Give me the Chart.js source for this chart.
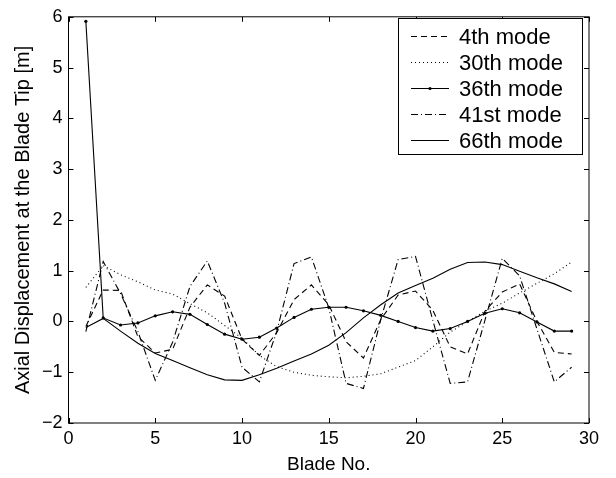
<!DOCTYPE html>
<html>
<head>
<meta charset="utf-8">
<script src="https://cdn.jsdelivr.net/npm/chart.js@4.4.0/dist/chart.umd.min.js"></script>
<style>
  html, body { margin: 0; padding: 0; background: #fff; }
</style>
</head>
<body>
<canvas id="chart" width="616" height="478"></canvas>
<script>
const FONT = "'Liberation Sans', Arial, Helvetica, sans-serif";

// blade numbers along the x axis
const BLADES = [1, 2, 3, 4, 5, 6, 7, 8, 9, 10, 11, 12, 13, 14, 15, 16, 17, 18, 19, 20, 21, 22, 23, 24, 25, 26, 27, 28, 29];

// axial tip displacement [m] per mode
const MODE_4 = [-0.10, 0.62, 0.61, -0.30, -0.62, -0.55, 0.28, 0.72, 0.50, -0.35, -0.67, -0.22, 0.43, 0.72, 0.33, -0.40, -0.72, 0.04, 0.52, 0.60, 0.22, -0.50, -0.64, 0.20, 0.58, 0.74, 0.00, -0.61, -0.64];
const MODE_30 = [0.67, 1.10, 0.92, 0.78, 0.62, 0.54, 0.35, 0.17, -0.08, -0.33, -0.67, -0.89, -1.00, -1.06, -1.09, -1.11, -1.08, -1.03, -0.90, -0.77, -0.50, -0.21, 0.00, 0.20, 0.36, 0.56, 0.75, 0.94, 1.17];
const MODE_36 = [5.91, 0.07, -0.07, -0.03, 0.11, 0.19, 0.14, -0.06, -0.25, -0.35, -0.31, -0.13, 0.08, 0.24, 0.28, 0.28, 0.21, 0.12, 0.00, -0.12, -0.19, -0.14, 0.00, 0.16, 0.25, 0.17, -0.01, -0.19, -0.19];
const MODE_41 = [-0.20, 1.18, 0.55, -0.20, -1.16, -0.41, 0.69, 1.19, 0.36, -0.90, -1.19, -0.20, 1.14, 1.27, 0.27, -1.22, -1.32, 0.04, 1.22, 1.28, 0.02, -1.22, -1.19, 0.02, 1.24, 0.90, -0.15, -1.19, -0.90];
const MODE_66 = [-0.12, 0.06, -0.19, -0.43, -0.63, -0.77, -0.91, -1.05, -1.15, -1.16, -1.05, -0.92, -0.78, -0.64, -0.47, -0.22, 0.07, 0.33, 0.56, 0.71, 0.85, 1.03, 1.16, 1.17, 1.12, 0.99, 0.86, 0.74, 0.59];

const SERIES_LABELS = ["4th mode", "30th mode", "36th mode", "41st mode", "66th mode"];
const X_TICKS = [0, 5, 10, 15, 20, 25, 30];
const Y_TICKS = [-2, -1, 0, 1, 2, 3, 4, 5, 6];

const toPoints = (vals) => vals.map((v, i) => ({ x: BLADES[i], y: v }));

const styles = [
  { dash: [6, 4], marker: 0 },
  { dash: [1, 3], marker: 0 },
  { dash: [], marker: 1.6 },
  { dash: [7, 3, 1, 3], marker: 0 },
  { dash: [], marker: 0 },
];
const allValues = [MODE_4, MODE_30, MODE_36, MODE_41, MODE_66];

const datasets = allValues.map((vals, i) => ({
  label: SERIES_LABELS[i],
  data: toPoints(vals),
  borderColor: "#000",
  backgroundColor: "#000",
  borderWidth: 1.1,
  borderDash: styles[i].dash,
  pointRadius: styles[i].marker,
  pointBorderWidth: 0,
  pointHoverRadius: 0,
  tension: 0,
  fill: false,
}));

// matlab-ish frame with ticks pointing inwards on all four sides
const frameTicks = {
  id: "frameTicks",
  afterDraw(chart) {
    const { ctx, chartArea: a, scales } = chart;
    const len = 5;
    ctx.save();
    ctx.strokeStyle = "#000";
    ctx.lineWidth = 1;
    ctx.strokeRect(a.left, a.top, a.right - a.left, a.bottom - a.top);
    ctx.beginPath();
    X_TICKS.forEach((v) => {
      const px = Math.round(scales.x.getPixelForValue(v)) + 0.5;
      ctx.moveTo(px, a.bottom); ctx.lineTo(px, a.bottom - len);
      ctx.moveTo(px, a.top); ctx.lineTo(px, a.top + len);
    });
    Y_TICKS.forEach((v) => {
      const py = Math.round(scales.y.getPixelForValue(v)) + 0.5;
      ctx.moveTo(a.left, py); ctx.lineTo(a.left + len, py);
      ctx.moveTo(a.right, py); ctx.lineTo(a.right - len, py);
    });
    ctx.stroke();
    ctx.restore();
  },
};

// boxed legend in the upper right corner
const boxLegend = {
  id: "boxLegend",
  afterDraw(chart) {
    const { ctx } = chart;
    const box = { x: 398.5, y: 18.5, w: 184, h: 136 };
    ctx.save();
    ctx.fillStyle = "#fff";
    ctx.fillRect(box.x, box.y, box.w, box.h);
    ctx.strokeStyle = "#000";
    ctx.lineWidth = 1;
    ctx.strokeRect(box.x, box.y, box.w, box.h);
    ctx.font = "22px " + FONT;
    ctx.textBaseline = "middle";
    ctx.fillStyle = "#000";
    chart.data.datasets.forEach((ds, i) => {
      const y = Math.round(35.5 + i * 26) + 0.5;
      ctx.beginPath();
      ctx.setLineDash(ds.borderDash);
      ctx.lineWidth = ds.borderWidth;
      ctx.moveTo(411, y);
      ctx.lineTo(449, y);
      ctx.stroke();
      ctx.setLineDash([]);
      if (ds.pointRadius > 0) {
        ctx.beginPath();
        ctx.arc(430, y, ds.pointRadius, 0, Math.PI * 2);
        ctx.fill();
      }
      ctx.fillText(ds.label, 459, y + 1);
    });
    ctx.restore();
  },
};

new Chart(document.getElementById("chart"), {
  type: "line",
  data: { datasets },
  options: {
    responsive: false,
    animation: false,
    devicePixelRatio: 1,
    layout: { padding: { top: 11, right: 27, left: 0, bottom: 0 } },
    plugins: { legend: { display: false }, tooltip: { enabled: false } },
    scales: {
      x: {
        type: "linear",
        min: 0,
        max: 30,
        afterBuildTicks: (s) => { s.ticks = X_TICKS.map((v) => ({ value: v })); },
        afterFit: (s) => { s.height = 55; },
        grid: { display: false, drawTicks: false },
        border: { display: false },
        ticks: { color: "#000", padding: 5, font: { family: FONT, size: 18 } },
        title: {
          display: true,
          text: "Blade No.",
          color: "#000",
          padding: { top: 0, bottom: 2 },
          font: { family: FONT, size: 19 },
        },
      },
      y: {
        type: "linear",
        min: -2,
        max: 6,
        afterBuildTicks: (s) => { s.ticks = Y_TICKS.map((v) => ({ value: v })); },
        afterFit: (s) => { s.width = 68.5; },
        grid: { display: false, drawTicks: false },
        border: { display: false },
        ticks: {
          color: "#000",
          padding: 6,
          font: { family: FONT, size: 18 },
          callback: (v) => String(v).replace("-", "\u2212"),
        },
        title: {
          display: true,
          text: "Axial Displacement at the Blade Tip [m]",
          color: "#000",
          padding: { top: 11, bottom: 0 },
          font: { family: FONT, size: 20 },
        },
      },
    },
  },
  plugins: [frameTicks, boxLegend],
});
</script>
</body>
</html>
